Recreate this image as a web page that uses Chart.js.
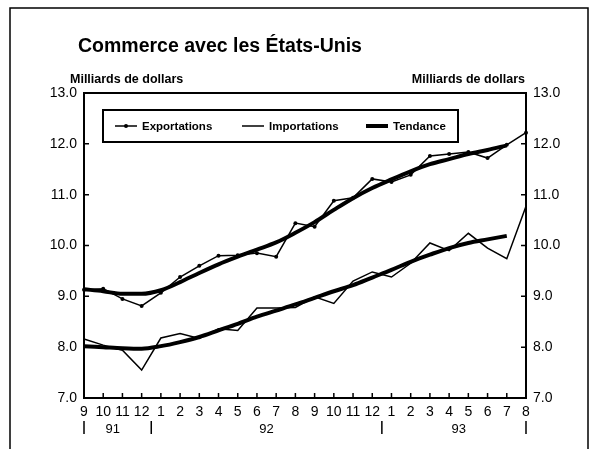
<!DOCTYPE html>
<html>
<head>
<meta charset="utf-8">
<script src="https://cdn.jsdelivr.net/npm/chart.js@4.4.0/dist/chart.umd.min.js"></script>
<style>
  html, body { margin: 0; padding: 0; background: #fff; }
  #wrap { width: 598px; height: 449px; position: relative; }
</style>
</head>
<body>
<div id="wrap"><canvas id="chart" width="598" height="449"></canvas></div>
<script>
  'use strict';

  // mois de sept. 1991 à août 1993
  var mois = ['9', '10', '11', '12', '1', '2', '3', '4', '5', '6', '7', '8', '9', '10', '11', '12', '1', '2', '3', '4', '5', '6', '7', '8'];
  var annees = [
    { label: '91', from: 0, to: 3 },
    { label: '92', from: 4, to: 15 },
    { label: '93', from: 16, to: 23 }
  ];
  var exportations = [9.13, 9.15, 8.95, 8.81, 9.07, 9.38, 9.6, 9.8, 9.81, 9.85, 9.78, 10.44, 10.37, 10.88, 10.94, 11.31, 11.25, 11.39, 11.76, 11.8, 11.84, 11.72, 11.98, 12.22];
  var importations = [8.16, 8.04, 7.94, 7.55, 8.18, 8.27, 8.17, 8.36, 8.33, 8.77, 8.77, 8.78, 8.99, 8.86, 9.3, 9.48, 9.38, 9.65, 10.05, 9.9, 10.24, 9.95, 9.74, 10.77];
  var tendanceExp = [9.14, 9.1, 9.05, 9.05, 9.12, 9.28, 9.46, 9.63, 9.78, 9.92, 10.06, 10.25, 10.46, 10.7, 10.93, 11.13, 11.3, 11.46, 11.6, 11.7, 11.8, 11.88, 11.97, null];
  var tendanceImp = [8.02, 8.0, 7.98, 7.97, 8.02, 8.1, 8.2, 8.33, 8.46, 8.6, 8.72, 8.84, 8.97, 9.1, 9.22, 9.37, 9.52, 9.68, 9.82, 9.95, 10.05, 10.12, 10.19, null];
  var yTicks = [7, 8, 9, 10, 11, 12, 13];

  var FONT = '"Liberation Sans", Arial, sans-serif';

  var decor = {
    id: 'decor',
    afterDraw: function (chart) {
      var c = chart.ctx, a = chart.chartArea;
      var x = chart.scales.x, y = chart.scales.y;
      c.save();
      c.strokeStyle = '#000';
      c.fillStyle = '#000';

      // cadre extérieur
      c.lineWidth = 1.5;
      c.beginPath();
      c.moveTo(10, 449); c.lineTo(10, 8); c.lineTo(588, 8); c.lineTo(588, 449);
      c.stroke();

      // cadre du graphique
      c.lineWidth = 2;
      c.strokeRect(a.left, a.top, a.right - a.left, a.bottom - a.top);

      // graduations vers l'intérieur
      c.lineWidth = 1.5;
      c.beginPath();
      for (var i = 0; i < mois.length; i++) {
        var px = x.getPixelForTick(i);
        c.moveTo(px, a.bottom); c.lineTo(px, a.bottom - 5);
      }
      yTicks.forEach(function (v) {
        if (v === 7 || v === 13) return;
        var py = y.getPixelForValue(v);
        c.moveTo(a.left, py); c.lineTo(a.left + 5, py);
        c.moveTo(a.right, py); c.lineTo(a.right - 5, py);
      });
      c.stroke();

      // titre
      c.font = 'bold 19.5px ' + FONT;
      c.textBaseline = 'alphabetic';
      c.textAlign = 'left';
      c.fillText('Commerce avec les États-Unis', 78, 52);

      // unités
      c.font = 'bold 12.5px ' + FONT;
      c.fillText('Milliards de dollars', 70, 83);
      c.textAlign = 'right';
      c.fillText('Milliards de dollars', 525, 83);

      // années
      c.font = '13px ' + FONT;
      c.textAlign = 'center';
      c.textBaseline = 'middle';
      annees.forEach(function (an) {
        var x0 = x.getPixelForTick(an.from), x1 = x.getPixelForTick(an.to);
        c.fillText(an.label, (x0 + x1) / 2, 429);
      });
      c.lineWidth = 1.5;
      c.beginPath();
      var seps = [x.getPixelForTick(0), (x.getPixelForTick(3) + x.getPixelForTick(4)) / 2,
                  (x.getPixelForTick(15) + x.getPixelForTick(16)) / 2, x.getPixelForTick(23)];
      seps.forEach(function (sx) { c.moveTo(sx, 421); c.lineTo(sx, 434); });
      c.stroke();

      // légende
      var lx = 103, ly = 110, lw = 355, lh = 32, my = ly + lh / 2;
      c.lineWidth = 2;
      c.strokeRect(lx, ly, lw, lh);
      c.font = 'bold 11.5px ' + FONT;
      c.textAlign = 'left';
      c.textBaseline = 'middle';
      var items = [
        { t: 'Exportations', x: 115, w: 1.5, dot: true },
        { t: 'Importations', x: 242, w: 1.5, dot: false },
        { t: 'Tendance', x: 366, w: 4, dot: false }
      ];
      items.forEach(function (it) {
        c.lineWidth = it.w;
        c.beginPath(); c.moveTo(it.x, my); c.lineTo(it.x + 22, my); c.stroke();
        if (it.dot) { c.beginPath(); c.arc(it.x + 11, my, 2, 0, Math.PI * 2); c.fill(); }
        c.fillText(it.t, it.x + 27, my + 1);
      });
      c.restore();
    }
  };

  var axeY = function (pos) {
    return {
      type: 'linear', position: pos, min: 7, max: 13,
      afterBuildTicks: function (s) { s.ticks = yTicks.map(function (v) { return { value: v }; }); },
      afterFit: function (s) { s.width = pos === 'left' ? 84 : 72; },
      grid: { display: false, drawTicks: false },
      border: { display: false },
      ticks: {
        color: '#000', padding: 7,
        font: { family: FONT, size: 14 },
        callback: function (v) { return Number(v).toFixed(1); }
      }
    };
  };

  var ctx = document.getElementById('chart');
  new Chart(ctx, {
    type: 'line',
    data: {
      labels: mois,
      datasets: [
        { label: 'Exportations', data: exportations, yAxisID: 'y', borderColor: '#000', borderWidth: 1.5,
          pointRadius: 2, pointBackgroundColor: '#000', pointBorderWidth: 0, tension: 0 },
        { label: 'Importations', data: importations, yAxisID: 'y', borderColor: '#000', borderWidth: 1.5,
          pointRadius: 0, tension: 0 },
        { label: 'Tendance', data: tendanceExp, yAxisID: 'y', borderColor: '#000', borderWidth: 4,
          pointRadius: 0, cubicInterpolationMode: 'monotone', spanGaps: false },
        { label: 'Tendance (imp.)', data: tendanceImp, yAxisID: 'y', borderColor: '#000', borderWidth: 4,
          pointRadius: 0, cubicInterpolationMode: 'monotone', spanGaps: false }
      ]
    },
    options: {
      responsive: false,
      animation: false,
      layout: { padding: { top: 93, left: 0, right: 0, bottom: 0 } },
      plugins: { legend: { display: false }, title: { display: false }, tooltip: { enabled: false } },
      scales: {
        x: {
          type: 'category', offset: false,
          afterFit: function (s) { s.height = 51; },
          grid: { display: false, drawTicks: false },
          border: { display: false },
          ticks: { color: '#000', padding: 6, maxRotation: 0, autoSkip: false,
                   font: { family: FONT, size: 14 } }
        },
        y: axeY('left'),
        y2: axeY('right')
      }
    },
    plugins: [decor]
  });
</script>
</body>
</html>
